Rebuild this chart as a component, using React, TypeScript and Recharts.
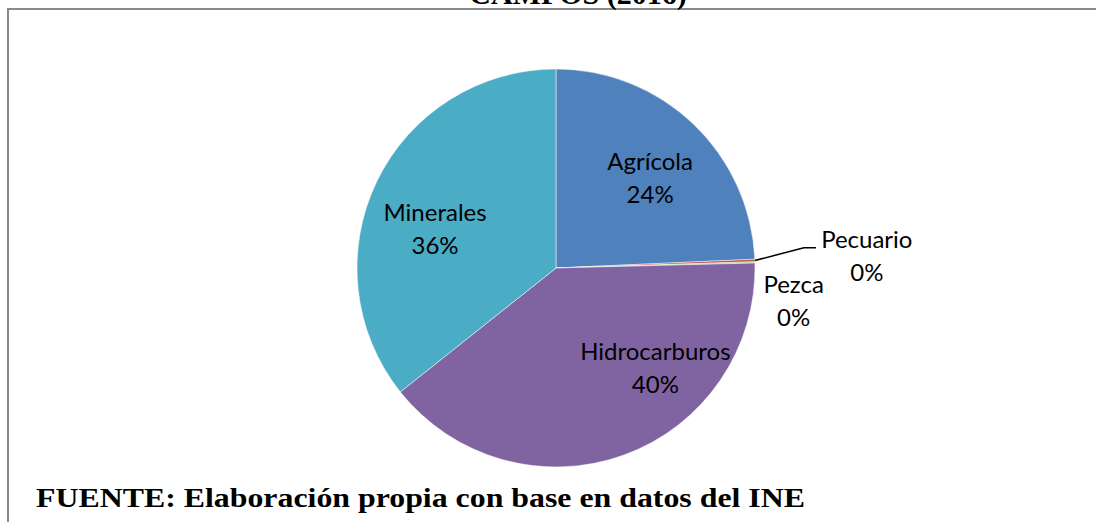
import { PieChart, Pie, Cell } from 'recharts'

const categories = ['Agrícola', 'Pecuario', 'Pezca', 'Hidrocarburos', 'Minerales']
const shares = [24.3, 0.2, 0.1, 39.7, 35.7]
const colors = ['#4F81BD', '#C0504D', '#9BBB59', '#8064A2', '#4BACC6']

const titleTail = 'CAMPOS (2016)'
const source = 'FUENTE: Elaboración propia con base en datos del INE'

const data = categories.map((name, i) => ({ name, value: shares[i] }))

const RAD = Math.PI / 180

// label spot: distance as share of the radius, turn (deg) away from the slice middle
const labelPlace: Record<string, { r: number; turn: number; leader?: boolean }> = {
  'Agrícola': { r: 0.656, turn: -2.4 },
  Pecuario: { r: 1.563, turn: 0, leader: true },
  Pezca: { r: 1.206, turn: -9.6 },
  Hidrocarburos: { r: 0.71, turn: 24.7 },
  Minerales: { r: 0.638, turn: 8 },
}

function renderLabel(props: any) {
  const { cx, cy, midAngle, outerRadius, percent } = props
  const name = props.name ?? props.payload?.name
  const p = labelPlace[name] ?? { r: 0.65, turn: 0 }
  const a = (midAngle + p.turn) * RAD
  const x = cx + outerRadius * p.r * Math.cos(a)
  const y = cy - outerRadius * p.r * Math.sin(a)
  const m = midAngle * RAD
  const e = (midAngle + 2.5) * RAD
  const ex = cx + outerRadius * 1.25 * Math.cos(e)
  const ey = cy - outerRadius * 1.25 * Math.sin(e)
  return (
    <g>
      {p.leader && (
        <polyline
          points={`${cx + outerRadius * Math.cos(m)},${cy - outerRadius * Math.sin(m)} ${ex},${ey} ${ex + 12},${ey}`}
          fill="none" stroke="#000" strokeWidth={1.5}
        />
      )}
      <text x={x} y={y} textAnchor="middle" fill="#000"
        style={{ fontFamily: 'Lato, "Open Sans", sans-serif', fontSize: 24 }}>
        <tspan x={x} y={y - 8}>{name}</tspan>
        <tspan x={x} y={y + 25}>{`${Math.round(percent * 100)}%`}</tspan>
      </text>
    </g>
  )
}

export default function App() {
  return (
    <div style={{ position: 'absolute', left: 0, top: 0, width: 1096, height: 522, overflow: 'hidden', background: '#fff' }}>
      <div style={{
        position: 'absolute', left: 7, top: 8, width: 1200, height: 700,
        borderLeft: '2px solid #8a8a8a', borderTop: '2px solid #8a8a8a',
      }} />
      <PieChart width={1096} height={522} margin={{ top: 0, right: 0, bottom: 0, left: 0 }}
        style={{ position: 'absolute', left: 0, top: 0 }}>
        <Pie
          data={data} dataKey="value" nameKey="name"
          cx={556} cy={268} outerRadius={199}
          startAngle={90} endAngle={-270}
          stroke="#ffffff" strokeWidth={0.5}
          label={renderLabel} labelLine={false}
          isAnimationActive={false}
        >
          {data.map((d, i) => <Cell key={d.name} fill={colors[i]} />)}
        </Pie>
      </PieChart>
      <svg width={1096} height={522} style={{ position: 'absolute', left: 0, top: 0, pointerEvents: 'none' }}>
        <text x={578} y={4} textAnchor="middle" fill="#000"
          style={{ fontFamily: '"Liberation Serif", "Times New Roman", serif', fontSize: 30, fontWeight: 'bold' }}>
          {titleTail}
        </text>
        <text x={36} y={507} fill="#000" textLength={769} lengthAdjust="spacingAndGlyphs"
          style={{ fontFamily: '"Liberation Serif", "Times New Roman", serif', fontSize: 27, fontWeight: 'bold' }}>
          {source}
        </text>
      </svg>
    </div>
  )
}
